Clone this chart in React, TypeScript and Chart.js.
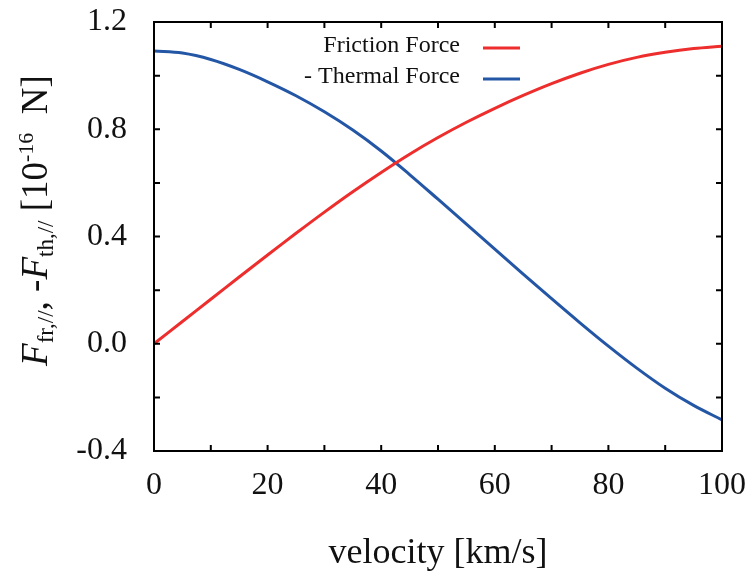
import React, { useEffect, useRef } from "react";
import { Chart, registerables } from "chart.js";

Chart.register(...registerables);

const velocity = [0, 5, 10, 15, 20, 25, 30, 35, 40, 45, 50, 55, 60, 65, 70, 75, 80, 85, 90, 95, 100];
const frictionForce = [0, 0.083, 0.166, 0.249, 0.331, 0.412, 0.491, 0.567, 0.639, 0.707, 0.769, 0.826, 0.878, 0.926, 0.97, 1.009, 1.042, 1.068, 1.087, 1.101, 1.11];
const thermalForce = [1.092, 1.084, 1.06, 1.023, 0.977, 0.925, 0.865, 0.797, 0.719, 0.631, 0.539, 0.446, 0.353, 0.26, 0.168, 0.078, -0.009, -0.091, -0.166, -0.23, -0.284];
const seriesLabels = ["Friction Force", "- Thermal Force"];
const seriesColors = ["#ee2d2d", "#2456a6"];
const xTitle = "velocity [km/s]";
const xMin = 0, xMax = 100, xStep = 10, xLabelStep = 20;
const yMin = -0.4, yMax = 1.2, yStep = 0.2, yLabelStep = 0.4;

const SERIF = '"Liberation Serif", "Times New Roman", serif';

const isMultiple = (v: number, step: number) => Math.abs(Math.round(v / step) * step - v) < 1e-6;

const framePlugin = {
  id: "frameTicks",
  afterDraw(chart: any) {
    const { ctx, chartArea: a, scales } = chart;
    ctx.save();
    ctx.strokeStyle = "#000";
    ctx.lineWidth = 2;
    ctx.strokeRect(a.left, a.top, a.right - a.left, a.bottom - a.top);
    const len = 6;
    ctx.beginPath();
    scales.x.ticks.forEach((t: any) => {
      const px = scales.x.getPixelForValue(t.value);
      ctx.moveTo(px, a.bottom);
      ctx.lineTo(px, a.bottom - len);
      ctx.moveTo(px, a.top);
      ctx.lineTo(px, a.top + len);
    });
    scales.y.ticks.forEach((t: any) => {
      const py = scales.y.getPixelForValue(t.value);
      ctx.moveTo(a.left, py);
      ctx.lineTo(a.left + len, py);
      ctx.moveTo(a.right, py);
      ctx.lineTo(a.right - len, py);
    });
    ctx.stroke();
    ctx.restore();
  },
};

const legendPlugin = {
  id: "gnuLegend",
  afterDraw(chart: any) {
    const { ctx, chartArea: a } = chart;
    ctx.save();
    ctx.font = `24px ${SERIF}`;
    ctx.textAlign = "right";
    ctx.textBaseline = "middle";
    chart.data.datasets.forEach((ds: any, i: number) => {
      const y = a.top + 24 + i * 31;
      ctx.fillStyle = "#111";
      ctx.fillText(ds.label, a.left + 306, y);
      ctx.strokeStyle = ds.borderColor;
      ctx.lineWidth = 3;
      ctx.beginPath();
      ctx.moveTo(a.left + 329, y + 2);
      ctx.lineTo(a.left + 366, y + 2);
      ctx.stroke();
    });
    ctx.restore();
  },
};

const yTitlePlugin = {
  id: "yTitleRich",
  afterDraw(chart: any) {
    const { ctx, chartArea: a } = chart;
    const big = `37px ${SERIF}`;
    const bigIt = `italic 37px ${SERIF}`;
    const sub = `23px ${SERIF}`;
    const sup = `22px ${SERIF}`;
    const parts = [
      { t: "F", f: bigIt, dy: 0 },
      { t: "fr,//", f: sub, dy: 6 },
      { t: ", -", f: big, dy: 0 },
      { t: "F", f: bigIt, dy: 0 },
      { t: "th,//", f: sub, dy: 6 },
      { t: " [10", f: big, dy: 0 },
      { t: "-16", f: sup, dy: -14 },
      { t: "  N]", f: big, dy: 0 },
    ];
    ctx.save();
    let total = 0;
    const widths = parts.map((p) => {
      ctx.font = p.f;
      const w = ctx.measureText(p.t).width;
      total += w;
      return w;
    });
    const cy = (a.top + a.bottom) / 2 - 16;
    ctx.translate(47, cy);
    ctx.rotate(-Math.PI / 2);
    ctx.fillStyle = "#111";
    ctx.textBaseline = "alphabetic";
    ctx.textAlign = "left";
    let x = -total / 2;
    parts.forEach((p, i) => {
      ctx.font = p.f;
      ctx.fillText(p.t, x, p.dy);
      x += widths[i];
    });
    ctx.restore();
  },
};

export default function App() {
  const canvasRef = useRef<HTMLCanvasElement | null>(null);

  useEffect(() => {
    if (!canvasRef.current) return;
    const chart = new Chart(canvasRef.current, {
      type: "line",
      data: {
        datasets: [
          {
            label: seriesLabels[0],
            data: velocity.map((v, i) => ({ x: v, y: frictionForce[i] })),
            borderColor: seriesColors[0],
            borderWidth: 3,
            pointRadius: 0,
            tension: 0.35,
            fill: false,
          },
          {
            label: seriesLabels[1],
            data: velocity.map((v, i) => ({ x: v, y: thermalForce[i] })),
            borderColor: seriesColors[1],
            borderWidth: 3,
            pointRadius: 0,
            tension: 0.35,
            fill: false,
          },
        ],
      },
      options: {
        animation: false,
        responsive: false,
        maintainAspectRatio: false,
        layout: { padding: { left: 0, top: 22, right: 32, bottom: 0 } },
        plugins: { legend: { display: false }, tooltip: { enabled: false } },
        scales: {
          x: {
            type: "linear",
            min: xMin,
            max: xMax,
            grid: { display: false },
            border: { display: false },
            ticks: {
              stepSize: xStep,
              autoSkip: false,
              maxRotation: 0,
              padding: 7,
              color: "#111",
              font: { family: SERIF, size: 32 },
              callback: (v: any) => (isMultiple(Number(v), xLabelStep) ? String(Math.round(Number(v))) : ""),
            },
            title: {
              display: true,
              text: xTitle,
              color: "#111",
              font: { family: SERIF, size: 36 },
              padding: { top: 0, bottom: 4 },
            },
            afterFit: (s: any) => {
              s.height = 128;
              s.paddingLeft = 0;
              s.paddingRight = 0;
            },
          },
          y: {
            type: "linear",
            min: yMin,
            max: yMax,
            grid: { display: false },
            border: { display: false },
            ticks: {
              stepSize: yStep,
              autoSkip: false,
              padding: 19,
              color: "#111",
              font: { family: SERIF, size: 32 },
              callback: (v: any) => {
                const n = Number(v);
                if (!isMultiple(n, yLabelStep)) return "";
                const r = Math.round(n * 10) / 10;
                return (Math.abs(r) < 1e-9 ? 0 : r).toFixed(1);
              },
            },
            afterFit: (s: any) => {
              s.width = 154;
              s.paddingTop = 0;
              s.paddingBottom = 0;
            },
          },
        },
      },
      plugins: [framePlugin, legendPlugin, yTitlePlugin],
    });
    return () => chart.destroy();
  }, []);

  return (
    <div style={{ position: "fixed", left: 0, top: 0, width: 754, height: 579, background: "#fff" }}>
      <canvas ref={canvasRef} width={754} height={579} style={{ width: 754, height: 579 }} />
    </div>
  );
}
